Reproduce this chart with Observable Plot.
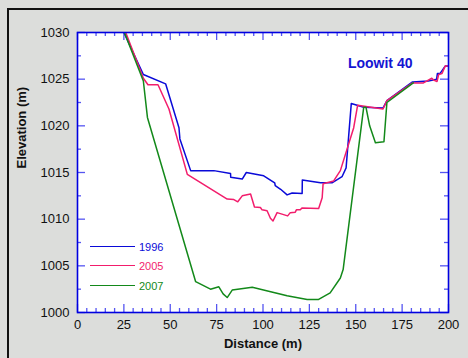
<!DOCTYPE html>
<html>
<head>
<meta charset="utf-8">
<script src="https://cdn.jsdelivr.net/npm/d3@7"></script>
<script src="https://cdn.jsdelivr.net/npm/@observablehq/plot@0.6"></script>
<style>
  html, body { margin: 0; padding: 0; background: #dcdddb; width: 468px; height: 358px; overflow: hidden; }
  #wrap { position: relative; width: 468px; height: 358px; font-family: "Liberation Sans", Arial, sans-serif; }
  #border { position: absolute; left: 7px; top: 8px; width: 520px; height: 420px; border-top: 2px solid #111; border-left: 2px solid #111; }
  #chart { position: absolute; left: 0; top: 0; }
  .leg { position: absolute; font-size: 11px; }
  .legline { position: absolute; height: 0; border-top: 1.6px solid; }
</style>
</head>
<body>
<div id="wrap"><div id="border"></div><div id="chart"></div></div>
<script>
// ---- data ----
const dist1996 = [25, 35.5, 47.5, 54.7, 55.2, 61, 73.5, 82.5, 82.6, 88.8, 91, 100.4, 106.3, 106.6, 109.5, 113, 115.7, 121.1, 121.2, 131, 137.2, 142.6, 144.8, 147.6, 154.3, 164.7, 166.8, 180.6, 189.1, 193.6, 194, 195.4, 198.2, 200];
const elev1996 = [1030, 1025.5, 1024.5, 1019.8, 1018.6, 1015.2, 1015.2, 1014.9, 1014.5, 1014.3, 1015.0, 1014.65, 1013.9, 1013.6, 1013.2, 1012.6, 1012.8, 1012.75, 1014.2, 1013.9, 1013.9, 1014.55, 1015.5, 1022.4, 1022.0, 1021.9, 1022.7, 1024.7, 1024.8, 1025.0, 1025.6, 1025.6, 1026.4, 1026.4];

const dist2005 = [26, 35.5, 38, 43.4, 49.3, 59.2, 80.7, 84.3, 86.4, 88.8, 93.3, 95.4, 98.6, 99.5, 102.2, 104, 105.4, 107.6, 113.3, 114.7, 117.4, 118, 120.1, 121, 130, 131.9, 132.4, 138.1, 141.7, 148.9, 151, 164.7, 166.8, 180.6, 186.5, 191, 192, 193.8, 194.7, 196.5, 198.2, 200];
const elev2005 = [1030, 1025.1, 1024.4, 1024.4, 1021.8, 1014.8, 1012.15, 1012.1, 1011.86, 1012.5, 1012.7, 1011.3, 1011.25, 1011.0, 1010.9, 1010.1, 1009.8, 1010.7, 1010.35, 1010.7, 1010.75, 1011.0, 1011.0, 1011.2, 1011.15, 1012.3, 1013.8, 1014.1, 1015.2, 1019.8, 1022.2, 1021.8, 1022.7, 1024.6, 1024.6, 1025.1, 1024.9, 1024.75, 1025.5, 1025.6, 1026.4, 1026.4];

const dist2007 = [25.3, 35.5, 37.7, 63.7, 71.7, 76.2, 78.5, 80.7, 83.4, 94.2, 113, 123.8, 130, 136.2, 141.7, 143.2, 154.3, 155.5, 157.5, 160.6, 165.2, 166.8, 181];
const elev2007 = [1030, 1024.8, 1020.9, 1003.3, 1002.5, 1002.75, 1002.0, 1001.6, 1002.4, 1002.7, 1001.8, 1001.4, 1001.4, 1002.1, 1003.7, 1004.6, 1022.0, 1022.0, 1020.0, 1018.2, 1018.3, 1022.5, 1024.6];

const seriesNames = ["1996", "2005", "2007"];
const seriesColors = ["#0a0ad8", "#f21d6c", "#13891a"];
const xMajor = [0, 25, 50, 75, 100, 125, 150, 175, 200];
const xMinor = d3.range(0, 201, 5);
const yMajor = [1000, 1005, 1010, 1015, 1020, 1025, 1030];
const yMinor = d3.range(1000, 1030.1, 2.5);
const titleText = "Loowit 40";

// ---- build table ----
const series = [[dist1996, elev1996], [dist2005, elev2005], [dist2007, elev2007]];
const rows = [];
series.forEach(([xs, ys], i) => xs.forEach((x, j) => rows.push({year: seriesNames[i], x, y: ys[j]})));

const W = 468, H = 358, mL = 77, mR = 20, mT = 32, mB = 46;
const pw = W - mL - mR, ph = H - mT - mB;
const tickColor = "#2a2aee";
const isMajX = d => d % 25 === 0;
const isMajY = d => d % 5 === 0;

const chart = Plot.plot({
  width: W, height: H,
  marginLeft: mL, marginRight: mR, marginTop: mT, marginBottom: mB,
  style: {background: "transparent", fontFamily: "'Liberation Sans', Arial, sans-serif", fontSize: "13px", color: "#111"},
  x: {domain: [0, 200]},
  y: {domain: [1000, 1030]},
  color: {domain: seriesNames, range: seriesColors},
  marks: [
    Plot.frame({fill: "white", stroke: "none"}),
    // inward ticks bottom / top
    Plot.tickX(xMinor.filter(d => !isMajX(d)), {x: d => d, insetTop: ph - 4, stroke: tickColor, strokeOpacity: 0.8, strokeWidth: 1.3}),
    Plot.tickX(xMajor, {x: d => d, insetTop: ph - 8, stroke: tickColor, strokeOpacity: 0.8, strokeWidth: 1.3}),
    Plot.tickX(xMinor.filter(d => !isMajX(d)), {x: d => d, insetBottom: ph - 4, stroke: tickColor, strokeOpacity: 0.8, strokeWidth: 1.3}),
    Plot.tickX(xMajor, {x: d => d, insetBottom: ph - 8, stroke: tickColor, strokeOpacity: 0.8, strokeWidth: 1.3}),
    // inward ticks left / right
    Plot.tickY(yMinor.filter(d => !isMajY(d)), {y: d => d, insetRight: pw - 4, stroke: tickColor, strokeOpacity: 0.8, strokeWidth: 1.3}),
    Plot.tickY(yMajor, {y: d => d, insetRight: pw - 8, stroke: tickColor, strokeOpacity: 0.8, strokeWidth: 1.3}),
    Plot.tickY(yMinor.filter(d => !isMajY(d)), {y: d => d, insetLeft: pw - 4, stroke: tickColor, strokeOpacity: 0.8, strokeWidth: 1.3}),
    Plot.tickY(yMajor, {y: d => d, insetLeft: pw - 8, stroke: tickColor, strokeOpacity: 0.8, strokeWidth: 1.3}),
    Plot.line(rows, {x: "x", y: "y", z: "year", stroke: "year", strokeWidth: 1.5, clip: true}),
    Plot.frame({stroke: "#0000e0", strokeWidth: 1.6}),
    Plot.axisX({ticks: xMajor, tickSize: 0, tickPadding: 7, fontSize: 13, label: null}),
    Plot.axisY({ticks: yMajor, tickSize: 0, tickPadding: 8, fontSize: 13, label: null, tickFormat: d => String(d)}),
    Plot.text(["Distance (m)"], {text: d => d, frameAnchor: "bottom", dy: 35, fontWeight: "bold", fontSize: 13}),
    Plot.text(["Elevation (m)"], {text: d => d, frameAnchor: "left", rotate: -90, dx: -56, dy: -4, fontWeight: "bold", fontSize: 13}),
    Plot.text([titleText], {text: d => d, frameAnchor: "top-right", textAnchor: "end", dx: -36, dy: 26, fontWeight: "bold", fontSize: 14, fill: "#1414d2"})
  ]
});
const host = document.getElementById("chart");
host.appendChild(chart);

// legend (HTML overlay)
const wrap = document.getElementById("wrap");
seriesNames.forEach((name, i) => {
  const cy = 246.5 + i * 19.5;
  const line = document.createElement("div");
  line.className = "legline";
  line.style.left = "90px"; line.style.width = "45px"; line.style.top = (cy - 0.8) + "px";
  line.style.borderTopColor = seriesColors[i];
  wrap.appendChild(line);
  const lab = document.createElement("div");
  lab.className = "leg";
  lab.textContent = name;
  lab.style.left = "139px"; lab.style.top = (cy - 7) + "px"; lab.style.color = seriesColors[i];
  lab.style.lineHeight = "14px";
  wrap.appendChild(lab);
});
</script>
</body>
</html>
